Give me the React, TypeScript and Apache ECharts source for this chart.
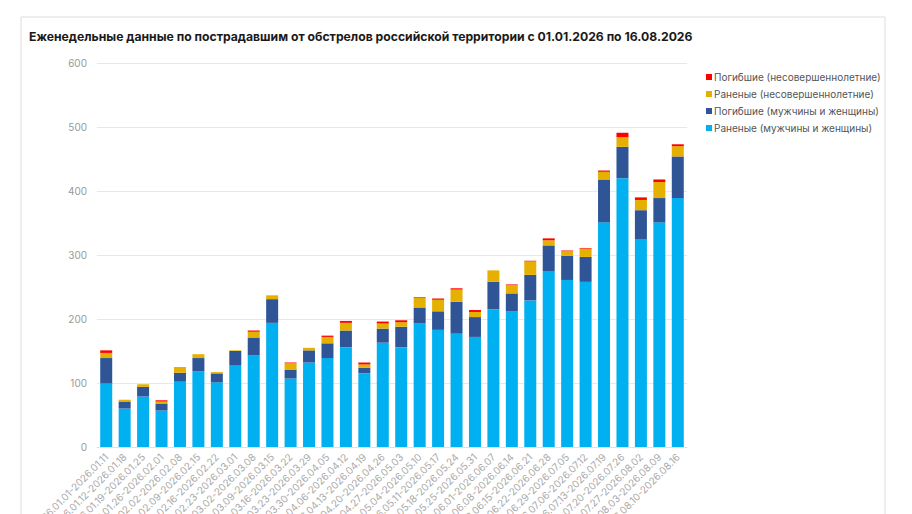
import React, { useEffect, useRef } from "react";
import * as echarts from "echarts";

const categories = [
  "2026.01.01-2026.01.11", "2026.01.12-2026.01.18", "2026.01.19-2026.01.25", "2026.01.26-2026.02.01",
  "2026.02.02-2026.02.08", "2026.02.09-2026.02.15", "2026.02.16-2026.02.22", "2026.02.23-2026.03.01",
  "2026.03.02-2026.03.08", "2026.03.09-2026.03.15", "2026.03.16-2026.03.22", "2026.03.23-2026.03.29",
  "2026.03.30-2026.04.05", "2026.04.06-2026.04.12", "2026.04.13-2026.04.19", "2026.04.20-2026.04.26",
  "2026.04.27-2026.05.03", "2026.05.04-2026.05.10", "2026.05.11-2026.05.17", "2026.05.18-2026.05.24",
  "2026.05.25-2026.05.31", "2026.06.01-2026.06.07", "2026.06.08-2026.06.14", "2026.06.15-2026.06.21",
  "2026.06.22-2026.06.28", "2026.06.29-2026.07.05", "2026.07.06-2026.07.12", "2026.07.13-2026.07.19",
  "2026.07.20-2026.07.26", "2026.07.27-2026.08.02", "2026.08.03-2026.08.09", "2026.08.10-2026.08.16",
];

const woundedAdults = [99, 60, 79, 57, 102, 118, 101, 128, 143, 194, 107, 132, 139, 156, 115, 163, 156, 193, 183, 177, 172, 215, 212, 229, 275, 261, 258, 351, 420, 325, 351, 389];
const killedAdults = [40, 11, 15, 11, 14, 21, 14, 22, 28, 37, 14, 19, 23, 26, 9, 22, 32, 25, 29, 50, 31, 43, 28, 40, 40, 38, 39, 67, 49, 45, 38, 65];
const woundedMinors = [8, 3, 4, 3, 9, 6, 2, 1, 9, 6, 10, 4, 10, 12, 5, 8, 7, 15, 18, 19, 8, 18, 13, 21, 8, 7, 13, 12, 15, 16, 25, 16];
const killedMinors = [4, 0, 0, 2, 0, 0, 0, 0, 2, 0, 1, 0, 2, 3, 3, 3, 3, 1, 2, 2, 3, 0, 1, 1, 3, 1, 1, 2, 7, 4, 4, 3];

const yTicks = [0, 100, 200, 300, 400, 500, 600];

const names = {
  killedMinors: "Погибшие (несовершеннолетние)",
  woundedMinors: "Раненые (несовершеннолетние)",
  killedAdults: "Погибшие (мужчины и женщины)",
  woundedAdults: "Раненые (мужчины и женщины)",
};

const FONT = "Inter, 'Noto Sans', sans-serif";

export default function App() {
  const ref = useRef<HTMLDivElement>(null);
  useEffect(() => {
    if (!ref.current) return;
    const chart = echarts.init(ref.current, undefined, { renderer: "svg" });
    const mk = (name: string, data: number[], color: string) => ({
      name,
      type: "bar",
      stack: "total",
      data,
      barWidth: 12,
      itemStyle: { color },
      emphasis: { disabled: true },
    });
    chart.setOption({
      animation: false,
      textStyle: { fontFamily: FONT },
      graphic: [
        {
          type: "rect",
          shape: { x: 21, y: 17, width: 864, height: 520 },
          style: { fill: "none", stroke: "#dddddd", lineWidth: 1 },
          silent: true,
        },
      ],
      title: {
        text: "Еженедельные данные по пострадавшим от обстрелов российской территории с 01.01.2026 по 16.08.2026",
        left: 24,
        top: 25,
        textStyle: { fontSize: 12.2, fontWeight: "bold", color: "#1a1a1a", fontFamily: FONT },
      },
      legend: {
        orient: "vertical",
        left: 701,
        top: 67,
        itemWidth: 6,
        itemHeight: 6,
        itemGap: 7,
        icon: "rect",
        data: [names.killedMinors, names.woundedMinors, names.killedAdults, names.woundedAdults],
        textStyle: { fontSize: 10, color: "#555", fontFamily: FONT, padding: [0, 0, 0, -3] },
      },
      grid: { left: 97, right: 225, top: 63, bottom: 67, containLabel: false, outerBoundsMode: "none" },
      xAxis: {
        type: "category",
        data: categories,
        axisTick: { show: false },
        axisLine: { lineStyle: { color: "#e0e0e0" } },
        axisLabel: { interval: 0, rotate: 45, fontSize: 10, color: "#aaa", margin: 8, fontFamily: FONT },
      },
      yAxis: {
        type: "value",
        min: yTicks[0],
        max: yTicks[yTicks.length - 1],
        interval: 100,
        axisLine: { show: false },
        axisTick: { show: false },
        splitLine: { lineStyle: { color: "#e8e8e8" } },
        axisLabel: { fontSize: 10, color: "#999", margin: 10, fontFamily: FONT },
      },
      series: [
        mk(names.woundedAdults, woundedAdults, "#00B0F0"),
        mk(names.killedAdults, killedAdults, "#2F5597"),
        mk(names.woundedMinors, woundedMinors, "#E6B000"),
        mk(names.killedMinors, killedMinors, "#FF0000"),
      ],
    });
    return () => chart.dispose();
  }, []);
  return (
    <div
      ref={ref}
      style={{ position: "fixed", left: 0, top: 0, width: 912, height: 514, background: "#fff" }}
    />
  );
}
